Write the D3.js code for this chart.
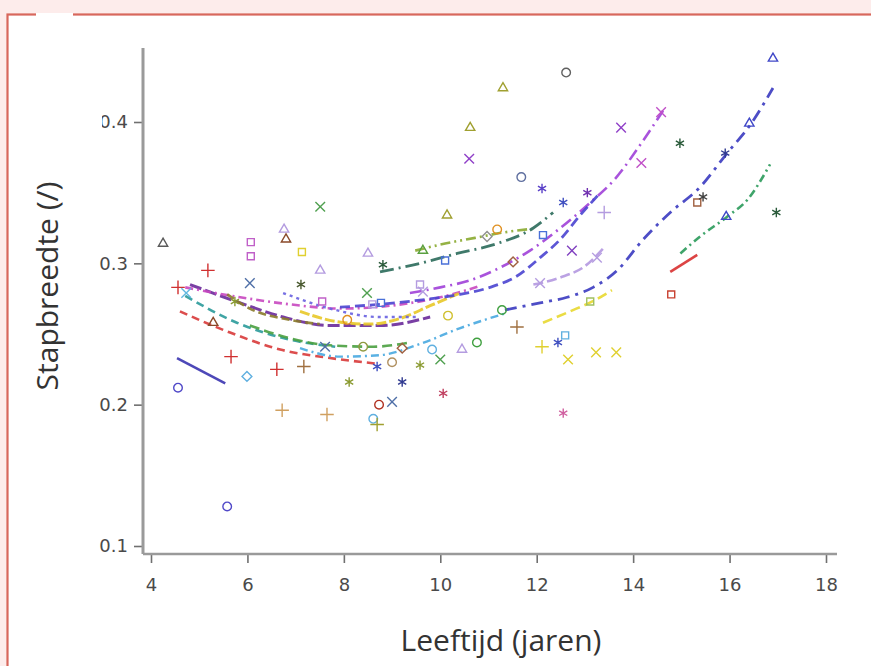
<!DOCTYPE html>
<html>
<head>
<meta charset="utf-8">
<script src="https://cdn.jsdelivr.net/npm/d3@7"></script>
<style>
  html, body { margin: 0; padding: 0; background: #fdeceb; }
  svg { display: block; }
</style>
</head>
<body>
<svg id="chart" width="871" height="666"></svg>
<script>
// ---- Measured step widths per child (age in years, step width) ----
const pointAge = [4.25,5.18,6.07,6.07,6.05,6.76,6.80,7.13,7.51,7.51,7.11,8.50,8.48,8.59,8.77,7.55,5.29,4.56,4.73,5.74,
  5.66,5.99,4.56,6.61,7.17,8.11,6.72,7.65,5.58,8.61,8.69,8.73,9.00,9.21,8.69,9.00,9.21,9.83,10.00,9.58,
  10.45,10.76,10.06,12.61,11.30,10.62,10.60,11.68,12.11,12.55,13.05,13.40,10.14,11.18,10.97,12.13,12.73,13.25,10.10,8.81,
  9.64,11.51,13.75,14.58,14.17,14.97,15.33,15.45,15.91,16.41,16.90,15.93,16.97,14.79,13.11,12.59,12.44,12.11,12.65,13.23,
  13.65,12.55,11.59,8.07,7.61,8.40,10.16,11.28,12.07,9.58,9.64];
const pointWidth = [0.314,0.295,0.315,0.305,0.286,0.324,0.317,0.308,0.340,0.295,0.285,0.307,0.279,0.271,0.272,0.273,0.258,0.283,0.279,0.273,
  0.234,0.220,0.212,0.225,0.227,0.216,0.196,0.193,0.128,0.190,0.186,0.200,0.202,0.216,0.227,0.230,0.240,0.239,0.232,0.228,
  0.239,0.244,0.208,0.435,0.424,0.396,0.374,0.361,0.353,0.343,0.350,0.336,0.334,0.324,0.319,0.320,0.309,0.304,0.302,0.299,
  0.309,0.301,0.396,0.407,0.371,0.385,0.343,0.347,0.378,0.399,0.445,0.333,0.336,0.278,0.273,0.249,0.244,0.241,0.232,0.237,
  0.237,0.194,0.255,0.260,0.241,0.241,0.263,0.267,0.286,0.285,0.280];
const pointKind = ["tri-gray","plus-red","sq-pink","sq-pink","x-slate","tri-lav","tri-brown","sq-yellow","x-green","tri-lav",
  "ast-olivedark","tri-lav","x-green","sq-lav","sq-blue","sq-pink","tri-brown","plus-red","x-lblue","ast-olive",
  "plus-red","dia-lblue","circ-violet","plus-red","plus-brown","ast-olive","plus-tan","plus-tan","circ-violet","circ-lblue",
  "plus-olive","circ-red","x-slate","ast-navy","ast-blue","circ-tan","dia-brown","circ-lblue","x-green","ast-olive",
  "tri-lav","circ-green","ast-rose","circ-gray","tri-olive","tri-olive","x-violet","circ-slate","ast-violet","ast-blue",
  "ast-purple","plus-lav","tri-olive","circ-orange","dia-gray","sq-blue","x-purple","x-lav","sq-blue","ast-dgreen",
  "tri-green","dia-brown","x-violet","x-pink","x-pink","ast-dgreen","sq-brown","ast-gray","ast-navy","tri-blue",
  "tri-blue","tri-blue","ast-dgreen","sq-red","sq-lgreen","sq-lblue","ast-blue","plus-yellow","x-yellow","x-yellow",
  "x-yellow","ast-pink","plus-brown","circ-orange","x-slate","circ-olive","circ-yellow","circ-green","x-lav","sq-lav","x-lav"];

// ---- Individual quadratic growth fits (age, fitted step width) ----
const fit01 = [[4.54,0.233],[5.54,0.215]];
const fit02 = [[4.60,0.266],[5.64,0.251],[6.68,0.239],[7.71,0.233],[8.69,0.229]];
const fit03 = [[4.71,0.277],[5.78,0.258],[6.88,0.246],[7.82,0.241]];
const fit04 = [[4.81,0.285],[5.85,0.272],[6.74,0.262],[7.71,0.256],[8.75,0.256],[9.79,0.262]];
const fit05 = [[4.71,0.283],[5.85,0.276],[6.88,0.271],[7.92,0.268],[8.96,0.270],[10.00,0.276],[10.83,0.284]];
const fit06 = [[5.58,0.278],[6.05,0.268],[6.88,0.260],[7.50,0.257]];
const fit07 = [[6.05,0.256],[6.88,0.247],[7.71,0.242],[8.61,0.241],[9.37,0.244]];
const fit08 = [[7.09,0.240],[7.92,0.234],[8.75,0.235],[9.58,0.243],[10.40,0.254],[11.39,0.265]];
const fit09 = [[7.09,0.266],[7.82,0.259],[8.54,0.257],[9.17,0.261],[9.79,0.270],[10.41,0.279]];
const fit10 = [[6.74,0.279],[7.71,0.268],[8.75,0.262],[9.50,0.262]];
const fit11 = [[9.37,0.279],[10.00,0.283],[10.62,0.288],[11.24,0.297],[11.86,0.309],[12.49,0.325],[13.11,0.343],[13.63,0.360],[14.15,0.384],[14.62,0.408]];
const fit12 = [[7.92,0.269],[8.75,0.271],[9.58,0.274],[10.41,0.278],[11.03,0.283],[11.59,0.291],[12.07,0.304],[12.49,0.317],[12.90,0.334],[13.32,0.350]];
const fit13 = [[11.34,0.267],[12.07,0.272],[12.63,0.276],[13.17,0.283],[13.67,0.295],[14.21,0.317],[14.77,0.336],[15.39,0.354],[15.95,0.378],[16.43,0.398],[16.90,0.424]];
const fit14 = [[8.75,0.294],[9.58,0.300],[10.35,0.307],[11.18,0.314],[11.93,0.325],[12.34,0.336]];
const fit15 = [[9.48,0.309],[10.10,0.314],[10.72,0.318],[11.34,0.322],[11.80,0.324]];
const fit16 = [[14.98,0.307],[15.39,0.319],[15.95,0.333],[16.37,0.345],[16.84,0.370]];
const fit17 = [[14.77,0.294],[15.33,0.306]];
const fit18 = [[12.13,0.258],[12.69,0.266],[13.21,0.274],[13.56,0.281]];
const fit19 = [[11.93,0.285],[12.49,0.290],[13.00,0.298],[13.42,0.312]];

const xTicks = [4, 6, 8, 10, 12, 14, 16, 18];
const yTicks = [0.1, 0.2, 0.3, 0.4];
const xTitle = "Leeftijd (jaren)";
const yTitle = "Stapbreedte (/)";

// ---- Styling ----
const kindStyle = {
  "tri-gray": ["triangle", "#5a5a5a"], "tri-lav": ["triangle", "#b49ce0"], "tri-brown": ["triangle", "#8a4a2a"],
  "tri-olive": ["triangle", "#a0a030"], "tri-green": ["triangle", "#5aa040"], "tri-blue": ["triangle", "#4048c8"],
  "sq-pink": ["square", "#c060c8"], "sq-yellow": ["square", "#e0d030"], "sq-lav": ["square", "#b49ce0"],
  "sq-blue": ["square", "#4a70d8"], "sq-brown": ["square", "#a06040"], "sq-red": ["square", "#c84030"],
  "sq-lgreen": ["square", "#a0c060"], "sq-lblue": ["square", "#60b0e0"],
  "circ-violet": ["circle", "#5048c8"], "circ-lblue": ["circle", "#60b0e0"], "circ-red": ["circle", "#b03020"],
  "circ-tan": ["circle", "#b09060"], "circ-green": ["circle", "#40a040"], "circ-gray": ["circle", "#606060"],
  "circ-slate": ["circle", "#6070a0"], "circ-orange": ["circle", "#e09020"], "circ-olive": ["circle", "#909a40"],
  "circ-yellow": ["circle", "#d0c030"],
  "plus-red": ["plus", "#d03030"], "plus-brown": ["plus", "#a07040"], "plus-tan": ["plus", "#d0a060"],
  "plus-olive": ["plus", "#a0a030"], "plus-lav": ["plus", "#b49ce0"], "plus-yellow": ["plus", "#e0d030"],
  "x-slate": ["times", "#5070a8"], "x-green": ["times", "#50a050"], "x-lblue": ["times", "#60b8e0"],
  "x-violet": ["times", "#9040c8"], "x-purple": ["times", "#8040c0"], "x-lav": ["times", "#b49ce0"],
  "x-pink": ["times", "#c050c8"], "x-yellow": ["times", "#e0d030"],
  "ast-olivedark": ["asterisk", "#4a5a30"], "ast-olive": ["asterisk", "#8a9a30"], "ast-navy": ["asterisk", "#303a90"],
  "ast-blue": ["asterisk", "#4050c0"], "ast-rose": ["asterisk", "#c04060"], "ast-violet": ["asterisk", "#5a40c8"],
  "ast-purple": ["asterisk", "#7030b0"], "ast-dgreen": ["asterisk", "#2a5a3a"], "ast-gray": ["asterisk", "#404040"],
  "ast-pink": ["asterisk", "#d060a0"],
  "dia-lblue": ["diamond", "#60b0e0"], "dia-brown": ["diamond", "#a06040"], "dia-gray": ["diamond", "#909090"]
};
const symbolFor = {
  triangle: d3.symbolTriangle2, square: d3.symbolSquare2, circle: d3.symbolCircle,
  plus: d3.symbolPlus, times: d3.symbolTimes, asterisk: d3.symbolAsterisk, diamond: d3.symbolDiamond2
};
const fits = [
  [fit01, "#3a34b0", null, 2.6],
  [fit02, "#d83a3a", "8,5", 2.6],
  [fit03, "#2a9a9a", "8,5", 2.6],
  [fit04, "#6a2a9a", "12,4", 3],
  [fit05, "#c848c0", "8,4,2,4", 2.6],
  [fit06, "#8a7a2a", "8,4", 2.6],
  [fit07, "#4aa040", "10,5", 2.6],
  [fit08, "#48a8e0", "8,4,2,4", 2.4],
  [fit09, "#e8c828", "10,3", 3],
  [fit10, "#6860e0", "3,4", 2.4],
  [fit11, "#a040d8", "12,5,2,5", 2.6],
  [fit12, "#4a44d0", "10,5", 2.8],
  [fit13, "#3a3ac0", "12,6,3,6", 2.8],
  [fit14, "#2a6a5a", "14,5,2,5", 2.8],
  [fit15, "#8aaa30", "10,4,2,4,2,4", 2.6],
  [fit16, "#2a9a5a", "8,4,2,4", 2.6],
  [fit17, "#d83030", null, 2.6],
  [fit18, "#e8d830", "10,5", 2.6],
  [fit19, "#b498e0", "10,4", 2.6]
];

const svg = d3.select("#chart");

// Framed white panel
svg.append("rect").attr("x", 7.5).attr("y", 14.5).attr("width", 900).attr("height", 700)
  .attr("fill", "#ffffff").attr("stroke", "#d8675c").attr("stroke-width", 2.2);
svg.append("line").attr("x1", 36).attr("x2", 73).attr("y1", 14.5).attr("y2", 14.5)
  .attr("stroke", "#ffffff").attr("stroke-width", 3);

const x = d3.scaleLinear().domain([4, 18]).range([151, 826]);
const y = d3.scaleLinear().domain([0.1, 0.4]).range([546, 122]);

const axisX = 143, axisY = 554;

// Axes
const gx = svg.append("g").attr("transform", `translate(0,${axisY})`)
  .call(d3.axisBottom(x).tickValues(xTicks).tickSize(9).tickPadding(15).tickSizeOuter(0).tickFormat(d3.format("d")));
const gy = svg.append("g").attr("transform", `translate(${axisX},0)`)
  .call(d3.axisLeft(y).tickValues(yTicks).tickSize(9).tickPadding(6).tickSizeOuter(0).tickFormat(d3.format(".1f")));
[gx, gy].forEach(g => {
  g.select(".domain").remove();
  g.selectAll(".tick line").attr("stroke", "#707070").attr("stroke-width", 1.6);
  g.selectAll(".tick text").attr("fill", "#4a4a4a").style("font-family", "'DejaVu Sans', sans-serif")
    .style("font-size", "18px");
});
svg.append("line").attr("x1", axisX).attr("x2", axisX).attr("y1", 48).attr("y2", axisY)
  .attr("stroke", "#9a9a9a").attr("stroke-width", 3);
svg.append("line").attr("x1", axisX).attr("x2", 837).attr("y1", axisY).attr("y2", axisY)
  .attr("stroke", "#9a9a9a").attr("stroke-width", 2.4);

// Left margin of the panel trims the top tick label
svg.append("rect").attr("x", 40).attr("y", 105).attr("width", 62).attr("height", 35).attr("fill", "#ffffff");

// Fitted curves
const line = d3.line().x(d => x(d[0])).y(d => y(d[1])).curve(d3.curveMonotoneX);
svg.append("g").selectAll("path").data(fits).join("path")
  .attr("d", d => line(d[0]))
  .attr("fill", "none")
  .attr("stroke", d => d[1])
  .attr("stroke-width", d => d[3])
  .attr("stroke-dasharray", d => d[2])
  .attr("opacity", 0.9);

// Measured points
const pts = pointAge.map((a, i) => ({ a, w: pointWidth[i], k: pointKind[i] }));
svg.append("g").selectAll("path").data(pts).join("path")
  .attr("transform", d => `translate(${x(d.a)},${y(d.w)})`)
  .attr("d", d => d3.symbol().type(symbolFor[kindStyle[d.k][0]]).size(kindStyle[d.k][0] === "circle" ? 58 : 62)())
  .attr("fill", "none")
  .attr("stroke", d => kindStyle[d.k][1])
  .attr("stroke-width", 1.4);

// Axis titles
svg.append("text").attr("x", 501).attr("y", 651).attr("text-anchor", "middle")
  .style("font-family", "'Open Sans', sans-serif").style("font-size", "30px").attr("fill", "#333")
  .text(xTitle);
svg.append("text").attr("transform", "translate(58,286) rotate(-90)").attr("text-anchor", "middle")
  .style("font-family", "'Open Sans', sans-serif").style("font-size", "30px").attr("fill", "#333")
  .text(yTitle);
</script>
</body>
</html>
